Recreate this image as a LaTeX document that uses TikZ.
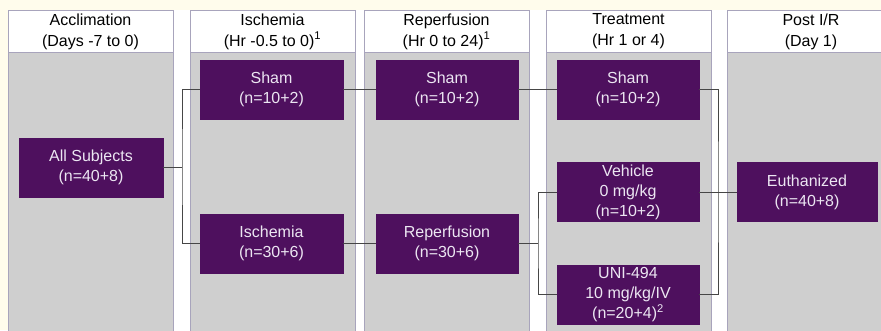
\documentclass[tikz,border=0pt]{standalone}
\usepackage{fontspec}
\setmainfont{Liberation Sans}
\definecolor{cream}{RGB}{255,252,236}
\definecolor{colgray}{RGB}{207,207,207}
\definecolor{colline}{RGB}{168,164,188}
\definecolor{grape}{RGB}{78,16,94}
\definecolor{boxtext}{RGB}{236,230,242}
\definecolor{wire}{RGB}{70,70,70}

\begin{document}
\begin{tikzpicture}[x=1pt,y=-1pt,
  grpbox/.style={fill=grape, draw=grape, text=boxtext, align=center,
    minimum width=143pt, minimum height=59pt, inner sep=0pt,
    font=\fontsize{16}{20}\selectfont},
  headtxt/.style={align=center, font=\fontsize{16}{21}\selectfont, inner sep=0pt},
  wire/.style={draw=wire, line width=0.8pt}]
\useasboundingbox (0,0) rectangle (881,330);
\fill[cream] (0,0) rectangle (881,330);
\fill[white] (8,10) rectangle (881,330);

% COLUMNS
\foreach \xa/\xb/\txt in {8/173/{Acclimation\\(Days -7 to 0)},
    190/355/{Ischemia\\(Hr -0.5 to 0)\textsuperscript{1}},
    364/529/{Reperfusion\\(Hr 0 to 24)\textsuperscript{1}},
    546/711/{Treatment\\(Hr 1 or 4)},
    727/895/{Post I/R\\(Day 1)}} {
  \fill[colgray] (\xa,52) rectangle (\xb,335);
  \draw[colline, line width=1pt] (\xa,335) -- (\xa,10) -- (\xb,10) -- (\xb,335);
  \draw[colline, line width=1pt] (\xa,52) -- (\xb,52);
  \node[headtxt] at ({(\xa+\xb)/2},31.5) {\txt};
}

% GROUPS
\node[grpbox, minimum width=144pt] (allsub) at (91,167.5) {All Subjects\\(n=40+8)};
\node[grpbox] (isham) at (271.5,89.5) {Sham\\(n=10+2)};
\node[grpbox] (isch) at (271.5,243.5) {Ischemia\\(n=30+6)};
\node[grpbox, minimum width=142pt] (rsham) at (447,89.5) {Sham\\(n=10+2)};
\node[grpbox, minimum width=142pt] (rep) at (447,243.5) {Reperfusion\\(n=30+6)};
\node[grpbox, minimum width=142pt] (tsham) at (628,89.5) {Sham\\(n=10+2)};
\node[grpbox, minimum width=142pt] (veh) at (628,192) {Vehicle\\0 mg/kg\\(n=10+2)};
\node[grpbox, minimum width=142pt] (uni) at (628,294.5) {UNI-494\\10 mg/kg/IV\\(n=20+4)\textsuperscript{2}};
\node[grpbox, minimum width=140pt] (euth) at (807,192) {Euthanized\\(n=40+8)};

% CONNECTORS
\coordinate (j1) at (182,167.5);
\coordinate (j2) at (538,243.5);
\coordinate (j3) at (718,192);
\draw[wire] (allsub.east) -- (j1);
\draw[wire] (isham.west) -| (j1) |- (isch.west);
\draw[wire] (isham.east) -- (rsham.west);
\draw[wire] (rsham.east) -- (tsham.west);
\draw[wire] (isch.east) -- (rep.west);
\draw[wire] (rep.east) -- (j2);
\draw[wire] (veh.west) -| (j2) |- (uni.west);
\draw[wire] (tsham.east) -| (j3) |- (uni.east);
\draw[wire] (veh.east) -- (euth.west);
\end{tikzpicture}
\end{document}
